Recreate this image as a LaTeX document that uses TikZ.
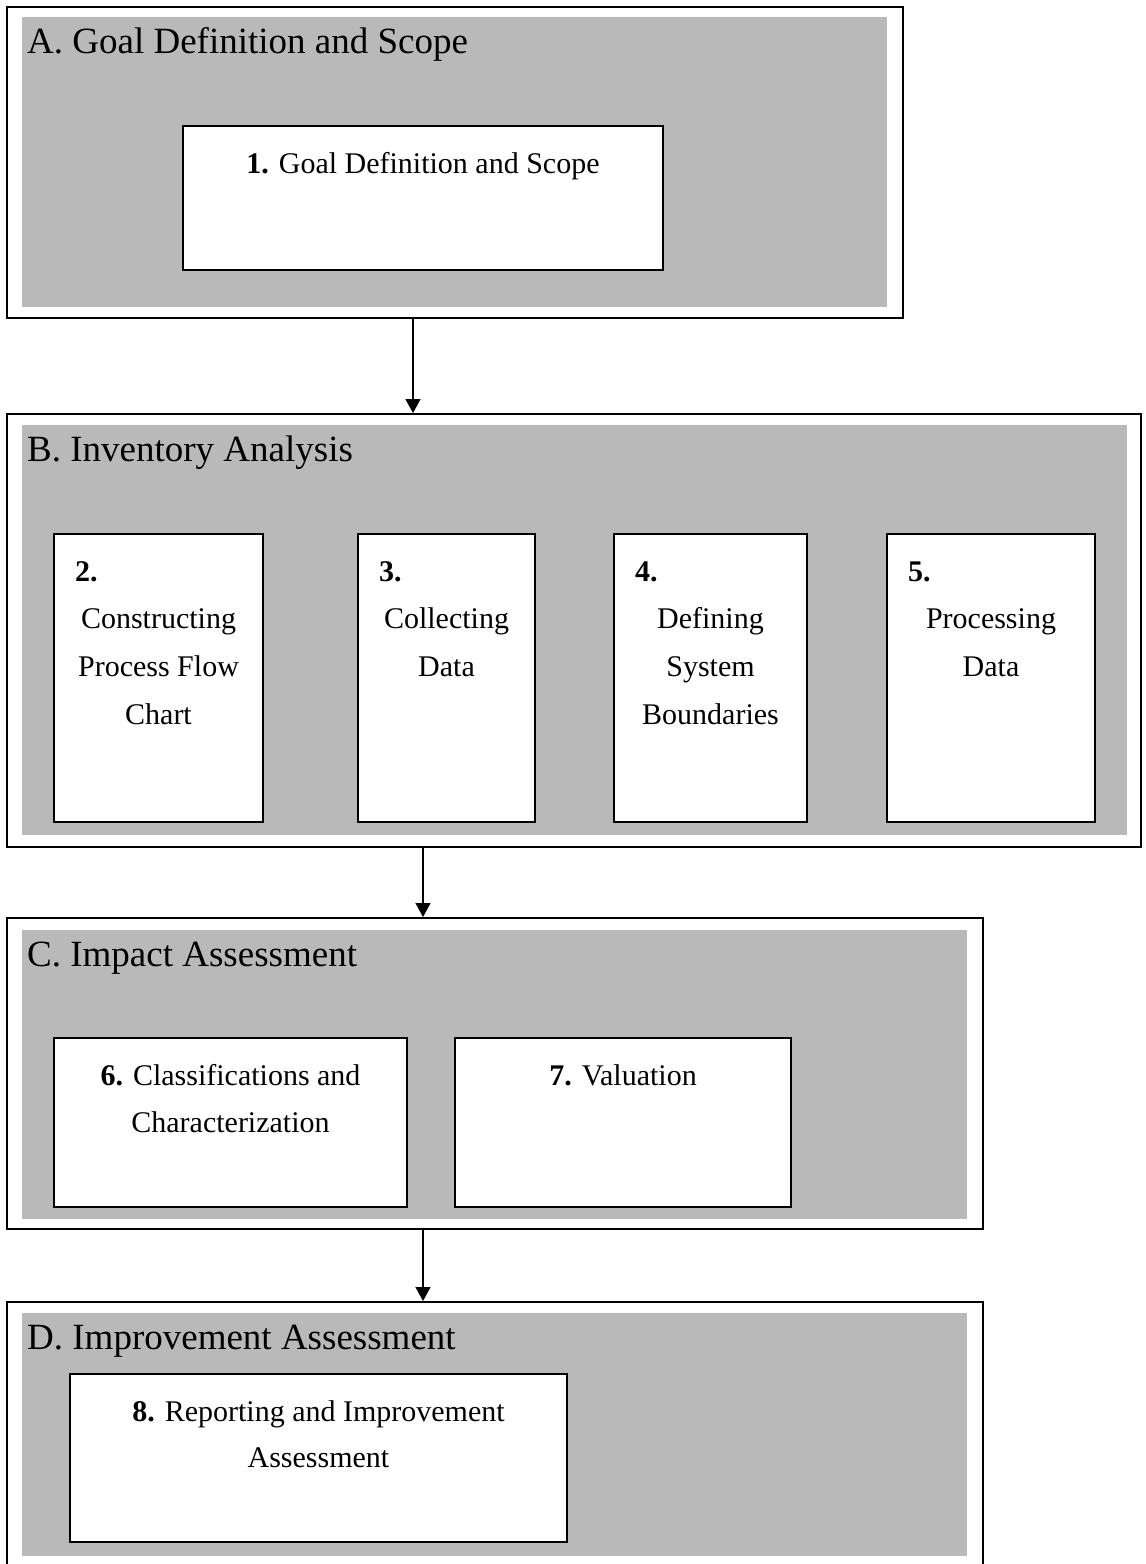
\documentclass[tikz,border=0pt]{standalone}
\usepackage{fontspec}
\setmainfont{Liberation Serif}
\usetikzlibrary{fit,arrows.meta}
\definecolor{panelgray}{RGB}{185,185,185}
\tikzset{
  outerbox/.style={draw=black, line width=2pt, inner sep=0pt, fill=white},
  graypanel/.style={fill=panelgray, draw=none, inner sep=0pt},
  innerbox/.style={draw=black, line width=1.6pt, fill=white, inner sep=0pt},
  titletext/.style={anchor=base west, inner sep=0pt, font=\fontsize{37}{40}\selectfont},
  boxtext/.style={anchor=base, inner sep=0pt, font=\fontsize{30}{36}\selectfont},
  numtext/.style={anchor=base west, inner sep=0pt, font=\fontsize{30}{36}\selectfont\bfseries},
  flow/.style={line width=1.5pt, -{Triangle[width=15pt,length=14pt]}}
}
\begin{document}
\begin{tikzpicture}[x=1pt,y=-1pt]
\useasboundingbox (0,0) rectangle (1146,1564);
\clip (0,0) rectangle (1146,1564);
% outer frames
\node[outerbox, fit={(7,7) (903,318)}] (A) {};
\node[outerbox, fit={(7,414) (1141,847)}] (B) {};
\node[outerbox, fit={(7,918) (983,1229)}] (C) {};
\node[outerbox, fit={(7,1302) (983,1620)}] (D) {};
% gray panels
\node[graypanel, fit={(22,17) (887,307)}] (Ag) {};
\node[graypanel, fit={(22,425) (1127,835)}] (Bg) {};
\node[graypanel, fit={(22,930) (967,1219)}] (Cg) {};
\node[graypanel, fit={(22,1313) (967,1556)}] (Dg) {};
% titles
\node[titletext] (At) at (27,53) {A. Goal Definition and Scope};
\node[titletext] (Bt) at (27,461) {B. Inventory Analysis};
\node[titletext] (Ct) at (27,966) {C. Impact Assessment};
\node[titletext] (Dt) at (27,1349) {D. Improvement Assessment};
% inner boxes
\node[innerbox, fit={(183,126) (663,270)}] (b1) {};
\node[innerbox, fit={(54,534) (263,822)}] (b2) {};
\node[innerbox, fit={(358,534) (535,822)}] (b3) {};
\node[innerbox, fit={(614,534) (807,822)}] (b4) {};
\node[innerbox, fit={(887,534) (1095,822)}] (b5) {};
\node[innerbox, fit={(54,1038) (407,1207)}] (b6) {};
\node[innerbox, fit={(455,1038) (791,1207)}] (b7) {};
\node[innerbox, fit={(70,1374) (567,1542)}] (b8) {};
% box texts
\node[boxtext] (t1) at (423,173) {\textbf{1.} Goal Definition and Scope};
\node[numtext] (n2) at (75,581) {2.};
\node[boxtext] (t2a) at (158.5,628) {Constructing};
\node[boxtext] (t2b) at (158.5,676) {Process Flow};
\node[boxtext] (t2c) at (158.5,724) {Chart};
\node[numtext] (n3) at (379,581) {3.};
\node[boxtext] (t3a) at (446.5,628) {Collecting};
\node[boxtext] (t3b) at (446.5,676) {Data};
\node[numtext] (n4) at (635,581) {4.};
\node[boxtext] (t4a) at (710.5,628) {Defining};
\node[boxtext] (t4b) at (710.5,676) {System};
\node[boxtext] (t4c) at (710.5,724) {Boundaries};
\node[numtext] (n5) at (908,581) {5.};
\node[boxtext] (t5a) at (991,628) {Processing};
\node[boxtext] (t5b) at (991,676) {Data};
\node[boxtext] (t6a) at (230.5,1085) {\textbf{6.} Classifications and};
\node[boxtext] (t6b) at (230.5,1132) {Characterization};
\node[boxtext] (t7) at (623,1085) {\textbf{7.} Valuation};
\node[boxtext] (t8a) at (318.5,1421) {\textbf{8.} Reporting and Improvement};
\node[boxtext] (t8b) at (318.5,1467) {Assessment};
% connectors
\coordinate (xab) at (413,0);
\coordinate (xbc) at (423,0);
\coordinate (xcd) at (423,0);
\draw[flow] (A.south -| xab) -- (B.north -| xab);
\draw[flow] (B.south -| xbc) -- (C.north -| xbc);
\draw[flow] (C.south -| xcd) -- (D.north -| xcd);
\end{tikzpicture}
\end{document}
